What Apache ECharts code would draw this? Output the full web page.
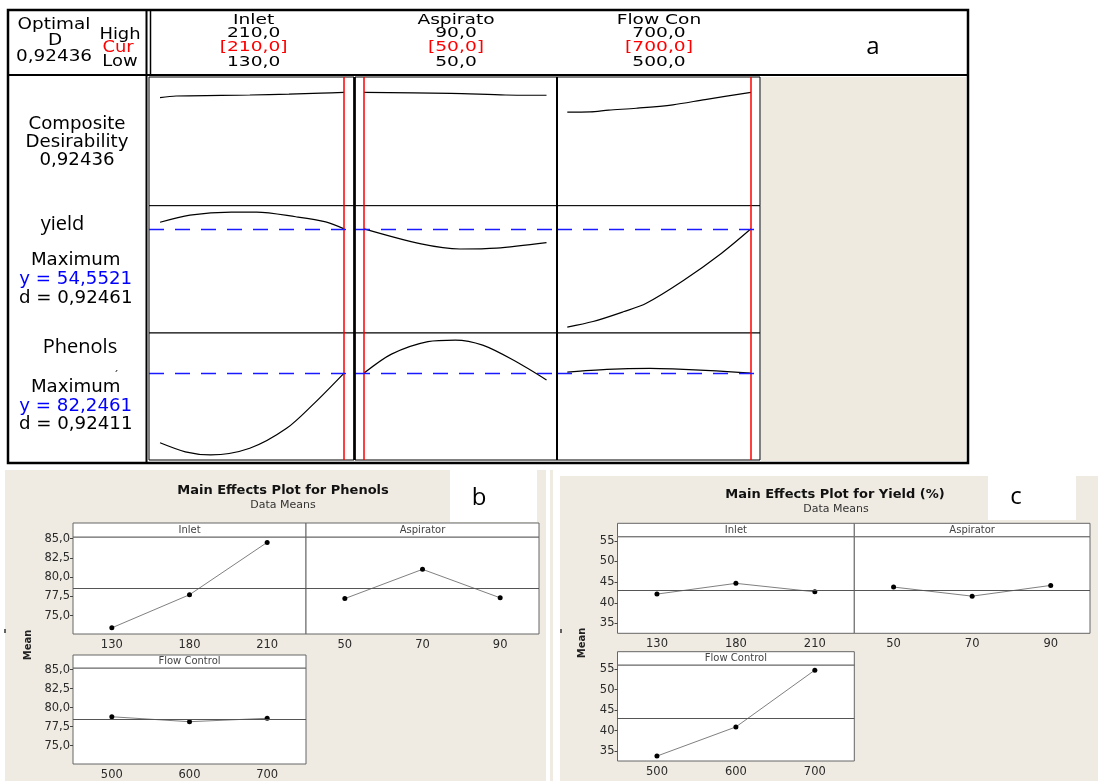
<!DOCTYPE html>
<html>
<head>
<meta charset="utf-8">
<script src="https://cdn.jsdelivr.net/npm/echarts@6/dist/echarts.min.js"></script>
<style>
html, body { margin: 0; padding: 0; background: #fff; }
#main { width: 1101px; height: 781px; }
</style>
</head>
<body>
<div id="main"></div>
<script>
// ---- optimizer header (a) ----
var factorNames = ['Inlet', 'Aspirato', 'Flow Con'];
var factorHigh = [210, 90, 700];
var factorCur = [210, 50, 700];
var factorLow = [130, 50, 500];

var optimalD = 0.92436;
var yieldPred = 54.5521, yieldD = 0.92461;
var phenolsPred = 82.2461, phenolsD = 0.92411;

// optimizer traces, x = factor setting
var compInletX = [130, 137, 169, 186, 200, 210];
var compInletY = [0.881, 0.895, 0.903, 0.911, 0.919, 0.924];
var compAspX = [50, 69, 81, 90];
var compAspY = [0.924, 0.917, 0.903, 0.901];
var compFlowX = [500, 525, 545, 575, 615, 650, 700];
var compFlowY = [0.764, 0.766, 0.78, 0.795, 0.823, 0.866, 0.924];

var yieldInletX = [130, 143, 161, 172, 189, 202, 210];
var yieldInletY = [56.1, 57.8, 58.5, 58.5, 57.4, 56.2, 54.55];
var yieldAspX = [50, 62.5, 71, 79, 90];
var yieldAspY = [54.55, 51.0, 49.8, 50.0, 51.3];
var yieldFlowX = [500, 528, 561, 586, 626, 668, 700];
var yieldFlowY = [31.4, 32.7, 35.0, 37.0, 42.3, 48.8, 54.55];

var phenInletX = [130, 141, 152, 169, 185, 197, 210];
var phenInletY = [64.4, 62.1, 61.3, 63.0, 68.1, 74.5, 82.25];
var phenAspX = [50, 56, 64, 70, 76, 83, 90];
var phenAspY = [82.25, 87.1, 90.3, 90.7, 89.4, 85.4, 80.5];
var phenFlowX = [500, 543, 590, 615, 662, 700];
var phenFlowY = [82.5, 83.2, 83.45, 83.3, 82.8, 82.25];

// ---- main effects (b, c) ----
var inletLevels = ['130', '180', '210'];
var aspiratorLevels = ['50', '70', '90'];
var flowLevels = ['500', '600', '700'];

var phenolsInlet = [73.4, 77.7, 84.5];
var phenolsAsp = [77.2, 81.0, 77.3];
var phenolsFlow = [78.8, 78.15, 78.6];
var phenolsMean = 78.5;
var phenolsTicks = [75, 77.5, 80, 82.5, 85];

var yieldInlet = [42.1, 44.7, 42.65];
var yieldAsp = [43.8, 41.6, 44.2];
var yieldFlow = [33.8, 40.9, 54.75];
var yieldMean = 43.1;
var yieldTicks = [35, 40, 45, 50, 55];

function fmt(v, d) { return v.toFixed(d).replace('.', ','); }
function pairs(xs, ys) { return xs.map(function (x, i) { return [x, ys[i]]; }); }

var chart = echarts.init(document.getElementById('main'));
var grids = [], xAxes = [], yAxes = [], series = [], graphics = [];

// ---- panel a: 3 x 3 trace cells ----
var colsA = [
    { left: 149, width: 205, min: 125.2, max: 214.3 },
    { left: 355, width: 202, min: 48.0, max: 92.3 },
    { left: 557, width: 203, min: 488.8, max: 709.8 }
];
var rowsA = [
    { top: 77, height: 128.7, min: 0, max: 1.05, target: null,
      traces: [pairs(compInletX, compInletY), pairs(compAspX, compAspY), pairs(compFlowX, compFlowY)] },
    { top: 205.7, height: 127.3, min: 30, max: 60, target: yieldPred,
      traces: [pairs(yieldInletX, yieldInletY), pairs(yieldAspX, yieldAspY), pairs(yieldFlowX, yieldFlowY)] },
    { top: 333, height: 127, min: 60, max: 92.5, target: phenolsPred,
      traces: [pairs(phenInletX, phenInletY), pairs(phenAspX, phenAspY), pairs(phenFlowX, phenFlowY)] }
];

rowsA.forEach(function (row) {
    colsA.forEach(function (col, c) {
        var k = grids.length;
        grids.push({ left: col.left, top: row.top, width: col.width, height: row.height,
            show: true, backgroundColor: '#fff', borderColor: '#000', borderWidth: 1 });
        xAxes.push({ type: 'value', gridIndex: k, min: col.min, max: col.max, show: false });
        yAxes.push({ type: 'value', gridIndex: k, min: row.min, max: row.max, show: false });
        var marks = [{ xAxis: factorCur[c], lineStyle: { color: '#ff0000', width: 1.5, type: 'solid' } }];
        if (row.target !== null) {
            marks.push({ yAxis: row.target });
        }
        series.push({
            type: 'line', xAxisIndex: k, yAxisIndex: k, data: row.traces[c],
            symbol: 'none', smooth: 0.3, lineStyle: { color: '#000', width: 1.2 },
            markLine: { silent: true, symbol: 'none', label: { show: false },
                lineStyle: { color: '#1a1aff', width: 1.4, type: [15, 11], opacity: 1 },
                data: marks }
        });
    });
});

function txt(x, y, text, font, color, sx, rot) {
    return { type: 'text', x: x, y: y, z: 30, scaleX: sx || 1, rotation: rot || 0, silent: true,
        style: { text: text, font: font, fill: color || '#000',
            textAlign: 'center', textVerticalAlign: 'middle', align: 'center', verticalAlign: 'middle' } };
}
function line(x1, y1, x2, y2, w, color) {
    return { type: 'line', z: 40, silent: true, shape: { x1: x1, y1: y1, x2: x2, y2: y2 },
        style: { stroke: color || '#000', lineWidth: w } };
}
function box(x, y, w, h, fill, z) {
    return { type: 'rect', z: z, silent: true, shape: { x: x, y: y, width: w, height: h }, style: { fill: fill } };
}

// ---- panels b, c: main effects ----
function mainEffects(cfg) {
    cfg.panels.forEach(function (p) {
        var k = grids.length;
        grids.push({ left: p.left, top: p.top, width: p.width, height: p.height,
            show: true, backgroundColor: '#fff', borderColor: '#666', borderWidth: 1 });
        xAxes.push({ type: 'category', gridIndex: k, data: p.levels,
            axisLine: { show: false }, axisTick: { show: false },
            axisLabel: { margin: 5, fontSize: 11.5, color: '#2a2a2a', fontFamily: 'DejaVu Sans' } });
        yAxes.push({ type: 'value', gridIndex: k, min: cfg.min, max: cfg.max,
            axisLine: { show: false }, splitLine: { show: false },
            axisTick: { show: p.yLabels, length: 3, customValues: cfg.ticks, lineStyle: { color: '#444' } },
            axisLabel: { show: p.yLabels, customValues: cfg.ticks, margin: 3, fontSize: 11.5, color: '#2a2a2a',
                fontFamily: 'DejaVu Sans', formatter: function (v) { return fmt(v, cfg.dec); } } });
        series.push({
            type: 'line', xAxisIndex: k, yAxisIndex: k, data: p.values,
            symbol: 'circle', symbolSize: 5, itemStyle: { color: '#000' },
            lineStyle: { color: '#808080', width: 1 },
            markLine: { silent: true, symbol: 'none', label: { show: false },
                lineStyle: { color: '#555', width: 1, type: 'solid' },
                data: [{ yAxis: cfg.mean }] }
        });
        graphics.push({ type: 'rect', z: 5, shape: { x: p.left, y: p.top - p.strip, width: p.width, height: p.strip },
            style: { fill: '#fff', stroke: '#666', lineWidth: 1 } });
        graphics.push(txt(p.left + p.width / 2, p.top - p.strip / 2, p.name, '10px "DejaVu Sans"', '#444'));
    });
}

// backgrounds
graphics.push(box(761, 77, 205, 384, '#eeeae0', -10));
graphics.push(box(5, 470, 541, 311, '#efebe2', -10));
graphics.push(box(550, 470, 3, 311, '#efebe2', -10));
graphics.push(box(560, 476, 538, 305, '#efebe2', -10));
graphics.push(box(450, 470, 87, 52, '#fff', -9));
graphics.push(box(988, 476, 88, 44, '#fff', -9));

mainEffects({ mean: phenolsMean, min: 72.6, max: 85.2, ticks: phenolsTicks, dec: 1, panels: [
    { name: 'Inlet', levels: inletLevels, values: phenolsInlet, left: 73, top: 537, width: 233, height: 97, strip: 14, yLabels: true },
    { name: 'Aspirator', levels: aspiratorLevels, values: phenolsAsp, left: 306, top: 537, width: 233, height: 97, strip: 14, yLabels: false },
    { name: 'Flow Control', levels: flowLevels, values: phenolsFlow, left: 73, top: 668, width: 233, height: 97, strip: 13, yLabels: true }
] });
mainEffects({ mean: yieldMean, min: 32.6, max: 56, ticks: yieldTicks, dec: 0, panels: [
    { name: 'Inlet', levels: inletLevels, values: yieldInlet, left: 617.5, top: 536.7, width: 236.8, height: 96.6, strip: 13.4, yLabels: true },
    { name: 'Aspirator', levels: aspiratorLevels, values: yieldAsp, left: 854.3, top: 536.7, width: 235.7, height: 96.6, strip: 13.4, yLabels: false },
    { name: 'Flow Control', levels: flowLevels, values: yieldFlow, left: 617.5, top: 665, width: 236.8, height: 96, strip: 13.3, yLabels: true }
] });

// panel a frame
graphics.push({ type: 'rect', z: 40, silent: true, shape: { x: 8, y: 10, width: 960, height: 453 },
    style: { fill: 'none', stroke: '#000', lineWidth: 2.5 } });
graphics.push(line(8, 75, 968, 75, 2));
graphics.push(line(146.5, 10, 146.5, 463, 2));
graphics.push(line(150.5, 10, 150.5, 75, 1.5));
graphics.push(line(354.5, 77, 354.5, 460, 2.5));
graphics.push(line(557, 77, 557, 460, 2));

// header texts
var hf = '14px "DejaVu Sans"';
var hs = 1.33;
var headerX = [253.6, 456, 659];
factorNames.forEach(function (n, i) {
    graphics.push(txt(headerX[i], 20.5, n, hf, '#000', hs));
    graphics.push(txt(headerX[i], 33.5, fmt(factorHigh[i], 1), hf, '#000', hs));
    graphics.push(txt(headerX[i], 47.5, '[' + fmt(factorCur[i], 1) + ']', hf, '#ff0000', hs));
    graphics.push(txt(headerX[i], 62, fmt(factorLow[i], 1), hf, '#000', hs));
});
var lf = '17px "DejaVu Sans"';
var hl = '16px "DejaVu Sans"';
graphics.push(txt(54, 25, 'Optimal', hl, '#000', 1.15));
graphics.push(txt(55, 40.7, 'D', hl, '#000', 1.15));
graphics.push(txt(54, 57.3, fmt(optimalD, 5), hl, '#000', 1.15));
graphics.push(txt(120, 34.5, 'High', hl, '#000', 1.12));
graphics.push(txt(118, 48, 'Cur', hl, '#ff0000', 1.12));
graphics.push(txt(120, 62, 'Low', hl, '#000', 1.12));
graphics.push(txt(873, 47, 'a', '24px "Open Sans"'));

graphics.push(txt(77, 125, 'Composite', lf, '#000', 1.07));
graphics.push(txt(77, 142.7, 'Desirability', lf, '#000', 1.07));
graphics.push(txt(77, 160.7, fmt(optimalD, 5), lf, '#000', 1.07));
graphics.push(txt(62.5, 224, 'yield', '20px "Open Sans"'));
graphics.push(txt(75.7, 260.7, 'Maximum', lf, '#000', 1.07));
graphics.push(txt(75.7, 279.3, 'y = ' + fmt(yieldPred, 4), lf, '#0000ff', 1.07));
graphics.push(txt(75.7, 298.3, 'd = ' + fmt(yieldD, 5), lf, '#000', 1.07));
graphics.push(txt(80, 347.3, 'Phenols', '20px "Open Sans"'));
graphics.push(txt(116, 376, '\u00b4', '10px "DejaVu Sans"'));
graphics.push(txt(75.7, 387.3, 'Maximum', lf, '#000', 1.07));
graphics.push(txt(75.7, 406.7, 'y = ' + fmt(phenolsPred, 4), lf, '#0000ff', 1.07));
graphics.push(txt(75.7, 425, 'd = ' + fmt(phenolsD, 5), lf, '#000', 1.07));

// panel b, c titles
graphics.push(txt(283, 491, 'Main Effects Plot for Phenols', 'bold 13px "DejaVu Sans"', '#111'));
graphics.push(txt(283, 505, 'Data Means', '11px "DejaVu Sans"', '#333'));
graphics.push(txt(479, 498, 'b', '24px "Open Sans"'));
graphics.push(txt(28, 645, 'Mean', 'bold 10px "DejaVu Sans"', '#222', 1, Math.PI / 2));
graphics.push(line(5, 629, 5, 633, 1.5, '#333'));

graphics.push(txt(835, 495, 'Main Effects Plot for Yield (%)', 'bold 13px "DejaVu Sans"', '#111'));
graphics.push(txt(836, 509, 'Data Means', '11px "DejaVu Sans"', '#333'));
graphics.push(txt(1016, 497, 'c', '24px "Open Sans"'));
graphics.push(txt(582, 643, 'Mean', 'bold 10px "DejaVu Sans"', '#222', 1, Math.PI / 2));
graphics.push(line(561, 629, 561, 633, 1.5, '#333'));

chart.setOption({
    animation: false,
    backgroundColor: '#fff',
    grid: grids,
    xAxis: xAxes,
    yAxis: yAxes,
    series: series,
    graphic: graphics
});
</script>
</body>
</html>
